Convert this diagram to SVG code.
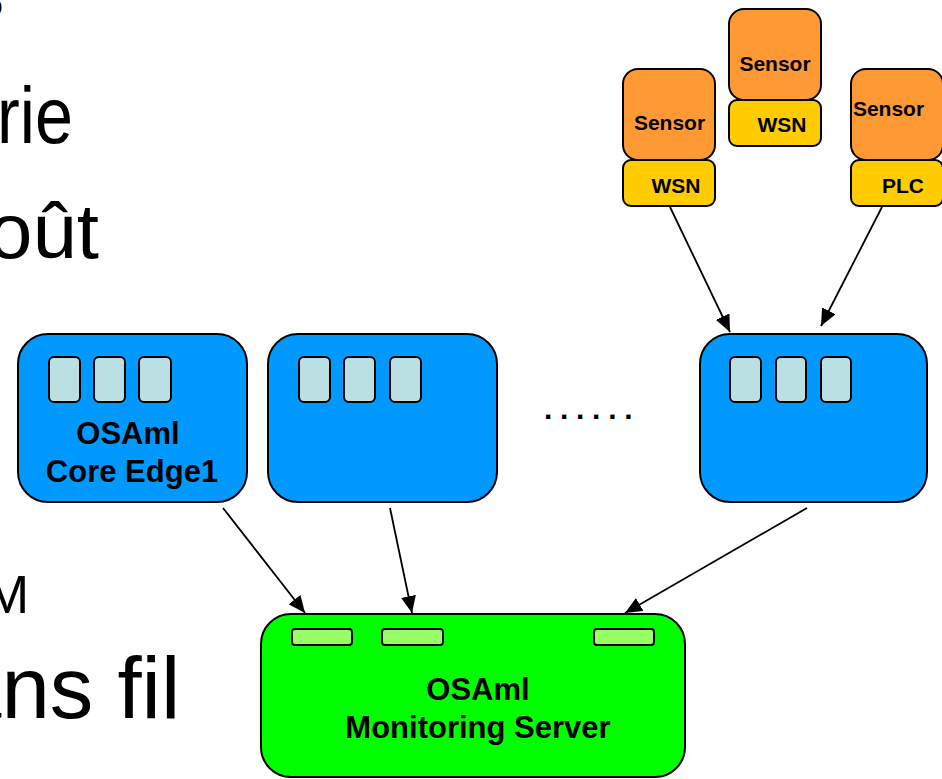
<svg xmlns="http://www.w3.org/2000/svg" width="942" height="779" viewBox="0 0 942 779">
<defs>
<style>
.bg{fill:#ffffff}
.slide{font-family:"Liberation Sans",Arial,sans-serif;fill:#000}
.lbl{font-family:"Liberation Sans",Arial,sans-serif;font-weight:bold;fill:#000;text-anchor:middle}
.core{fill:#0099FF;stroke:#000;stroke-width:2}
.slot{fill:#BBE0E3;stroke:#000;stroke-width:2}
.srv{fill:#00FF00;stroke:#000;stroke-width:2}
.port{fill:#99FF66;stroke:#000;stroke-width:2}
.sensor{fill:#FF9933;stroke:#000;stroke-width:2}
.net{fill:#FFCC00;stroke:#000;stroke-width:2}
.edge{stroke:#000;stroke-width:1.8;fill:none;marker-end:url(#arr)}
</style>
<marker id="arr" markerUnits="userSpaceOnUse" markerWidth="17" markerHeight="15" refX="17" refY="7.5" orient="auto">
<path d="M0,0 L17,7.5 L0,15 z" fill="#000"/>
</marker>
</defs>
<rect class="bg" x="0" y="0" width="942" height="779"/>

<g id="slide-text">
<text class="slide" x="-13" y="15" font-size="28">o</text>
<text class="slide" x="-3" y="143" font-size="80" textLength="76" lengthAdjust="spacingAndGlyphs">rie</text>
<text class="slide" x="-12" y="258" font-size="78" textLength="111" lengthAdjust="spacingAndGlyphs">oût</text>
<text class="slide" x="-15" y="613" font-size="53">M</text>
<text class="slide" x="-47" y="718" font-size="87">ans fil</text>
<text class="slide" x="544" y="419" font-size="30" font-weight="bold" letter-spacing="7.7">......</text>
</g>

<g id="sensor1">
<rect class="sensor" x="623" y="69" width="92" height="91" rx="15"/>
<rect class="net" x="623" y="160" width="92" height="46" rx="8"/>
<text class="lbl" x="669.5" y="130" font-size="21">Sensor</text>
<text class="lbl" x="676" y="193" font-size="21">WSN</text>
</g>
<g id="sensor2">
<rect class="sensor" x="729" y="9" width="92" height="91" rx="15"/>
<rect class="net" x="729" y="100" width="92" height="46" rx="8"/>
<text class="lbl" x="775" y="71" font-size="21">Sensor</text>
<text class="lbl" x="782" y="132" font-size="21">WSN</text>
</g>
<g id="sensor3">
<rect class="sensor" x="851" y="69" width="92" height="91" rx="15"/>
<rect class="net" x="851" y="160" width="92" height="46" rx="8"/>
<text class="lbl" x="888.5" y="116" font-size="21">Sensor</text>
<text class="lbl" x="903" y="193" font-size="21">PLC</text>
</g>

<g id="core1">
<rect class="core" x="18" y="334" width="229" height="168" rx="30"/>
<rect class="slot" x="49" y="357" width="31" height="45" rx="5"/>
<rect class="slot" x="94" y="357" width="31" height="45" rx="5"/>
<rect class="slot" x="139" y="357" width="32" height="45" rx="5"/>
<text class="lbl" x="128" y="444" font-size="31">OSAml</text>
<text class="lbl" x="132" y="482" font-size="31">Core Edge1</text>
</g>
<g id="core2">
<rect class="core" x="268" y="334" width="229" height="168" rx="30"/>
<rect class="slot" x="299" y="357" width="31" height="45" rx="5"/>
<rect class="slot" x="344" y="357" width="31" height="45" rx="5"/>
<rect class="slot" x="390" y="357" width="31" height="45" rx="5"/>
</g>
<g id="core3">
<rect class="core" x="700" y="334" width="227" height="168" rx="30"/>
<rect class="slot" x="730" y="357" width="31" height="45" rx="5"/>
<rect class="slot" x="776" y="357" width="30" height="45" rx="5"/>
<rect class="slot" x="821" y="357" width="30" height="45" rx="5"/>
</g>

<g id="server">
<rect class="srv" x="261" y="614" width="424" height="163" rx="30"/>
<rect class="port" x="292" y="629" width="60" height="16" rx="3"/>
<rect class="port" x="382" y="629" width="61" height="16" rx="3"/>
<rect class="port" x="594" y="629" width="60" height="16" rx="3"/>
<text class="lbl" x="478" y="700" font-size="31">OSAml</text>
<text class="lbl" x="478" y="738" font-size="31">Monitoring Server</text>
</g>

<g id="connectors">
<line class="edge" x1="670" y1="207" x2="730" y2="332"/>
<line class="edge" x1="882" y1="207" x2="821" y2="326"/>
<line class="edge" x1="223" y1="508" x2="305" y2="613"/>
<line class="edge" x1="390" y1="508" x2="412" y2="613"/>
<line class="edge" x1="807" y1="508" x2="625" y2="613"/>
</g>
</svg>
